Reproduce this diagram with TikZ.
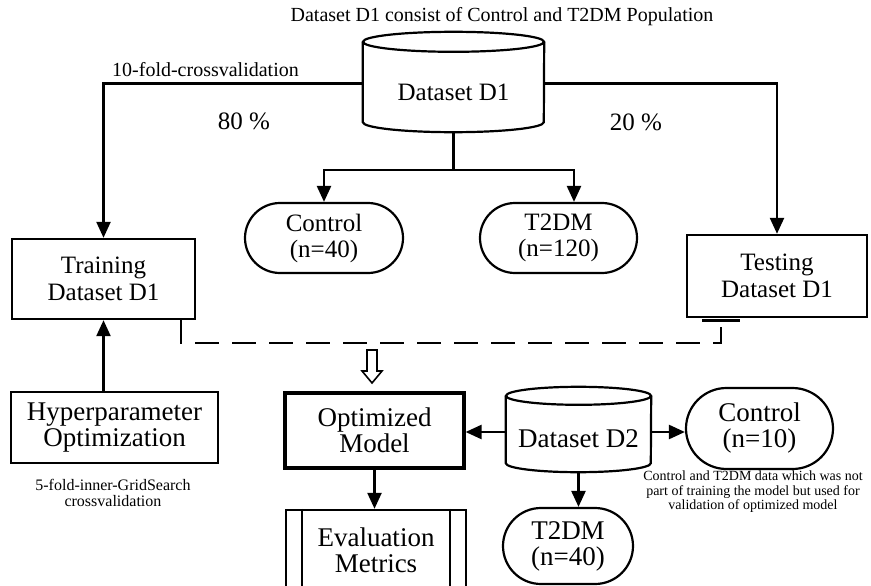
\documentclass[tikz,border=0pt]{standalone}
\usepackage{fontspec}
\setmainfont{Liberation Serif}
\usetikzlibrary{arrows.meta,shapes.misc}

\begin{document}
\begin{tikzpicture}[x=1pt,y=-1pt,
		box/.style={draw,line width=2.4pt,inner sep=0pt,align=center,font=\fontsize{25}{27}\selectfont},
		pill/.style={rounded rectangle,draw,line width=2.2pt,inner sep=0pt,align=center,font=\fontsize{25}{26}\selectfont},
		store/.style={inner sep=0pt,align=center,font=\fontsize{25}{27}\selectfont},
		big/.style={font=\fontsize{27}{26}\selectfont},
		cyl/.style={line width=2.2pt},
		link/.style={line width=2.4pt},
		arr/.style={line width=2.4pt,-{Triangle[length=16pt,width=14pt]}},
		pooled/.style={line width=2.4pt,dash pattern=on 24pt off 13pt},
		note/.style={align=center,inner sep=0pt}]
		\useasboundingbox (0,0) rectangle (871,586);
		\clip (0,0) rectangle (871,586);
		\node[font=\fontsize{20}{22}\selectfont] (title) at (502,17) {Dataset D1 consist of Control and T2DM Population};
		\node[store,minimum width=181pt,minimum height=80pt] (d1) at (453.5,92) {Dataset D1};
		\draw[cyl] ([yshift=10pt]d1.north) ellipse [x radius=90.5pt,y radius=10pt];
		\draw[cyl] ([yshift=10pt]d1.north west) -- ([yshift=10pt]d1.south west) arc [start angle=180,end angle=360,x radius=90.5pt,y radius=10pt] -- ([yshift=10pt]d1.north east);
		\node[anchor=west,inner sep=0pt,font=\fontsize{20}{22}\selectfont] (cv) at (112,70) {10-fold-crossvalidation};
		\node[font=\fontsize{25}{27}\selectfont] (p80) at (244,121) {80 \%};
		\node[font=\fontsize{25}{27}\selectfont] (p20) at (636,122) {20 \%};
		\node[box,minimum width=183pt,minimum height=80pt] (train) at (103.5,279) {Training\\Dataset D1};
		\node[box,minimum width=180pt,minimum height=82pt] (test) at (777,276) {Testing\\Dataset D1};
		\node[pill,minimum width=158pt,minimum height=70pt] (ctl40) at (324,238) {Control\\(n=40)};
		\node[pill,minimum width=157pt,minimum height=70pt] (t2dm120) at (558.5,238) {T2DM\\(n=120)};
		\node[box,big,minimum width=207pt,minimum height=71pt] (hyper) at (114.5,427.5) {Hyperparameter\\Optimization};
		\node[note,font=\fontsize{16}{16}\selectfont] (inner) at (113,493) {5-fold-inner-GridSearch\\crossvalidation};
		\node[box,big,line width=3.2pt,minimum width=179pt,minimum height=75pt] (optim) at (374.5,430.5) {Optimized\\Model};
		\node[store,big,minimum width=145pt,minimum height=67pt] (d2) at (578.5,438.5) {Dataset D2};
		\draw[cyl] ([yshift=9pt]d2.north) ellipse [x radius=72.5pt,y radius=9pt];
		\draw[cyl] ([yshift=9pt]d2.north west) -- ([yshift=9pt]d2.south west) arc [start angle=180,end angle=360,x radius=72.5pt,y radius=9pt] -- ([yshift=9pt]d2.north east);
		\node[pill,big,minimum width=147pt,minimum height=81pt] (ctl10) at (759.5,428.5) {Control\\(n=10)};
		\node[note,font=\fontsize{14}{14.5}\selectfont] (unseen) at (753,492) {Control and T2DM data which was not\\part of training the model but used for\\validation of optimized model};
		\node[pill,big,minimum width=130pt,minimum height=76pt] (t2dm40) at (568,546) {T2DM\\(n=40)};
		\node[box,big,minimum width=180pt,minimum height=80pt] (eval) at (376,550) {Evaluation\\Metrics};
		\draw[link] ([xshift=17pt]eval.north west) -- ([xshift=17pt]eval.south west);
		\draw[link] ([xshift=-17pt]eval.north east) -- ([xshift=-17pt]eval.south east);
		\draw[arr] ([yshift=8.5pt]d1.west) -| (train.north);
		\draw[arr] ([yshift=8.5pt]d1.east) -| (test.north);
		\draw[link] (d1.south) -- ++(0,38) coordinate (fork);
		\draw[arr] (fork) -| (ctl40.north);
		\draw[arr] (fork) -| ([xshift=15.5pt]t2dm120.north);
		\draw[arr] (hyper.north -| train.south) -- (train.south);
		\draw[pooled] ([xshift=-15pt]train.south east) -- ++(0,23) -| ([xshift=-56pt]test.south);
		\draw[line width=3pt] ([xshift=-75pt,yshift=-2pt]test.south) -- ([xshift=-37pt,yshift=-2pt]test.south);
		\coordinate (hollow) at (367,350);
		\draw[line width=1.6pt] (hollow) -- ++(10,0) -- ++(0,21) -- ++(5,0) -- ++(-10,12) -- ++(-10,-12) -- ++(5,0) -- cycle;
		\draw[arr] ([yshift=6.5pt]d2.west) -- ([yshift=6.5pt]d2.west -| optim.east);
		\draw[arr] ([yshift=6.5pt]d2.east) -- ([yshift=6.5pt]d2.east -| ctl10.west);
		\draw[arr] (d2.south) -- (d2.south |- t2dm40.north);
		\draw[arr] (optim.south) -- (optim.south |- eval.north);
	\end{tikzpicture}
\end{document}
